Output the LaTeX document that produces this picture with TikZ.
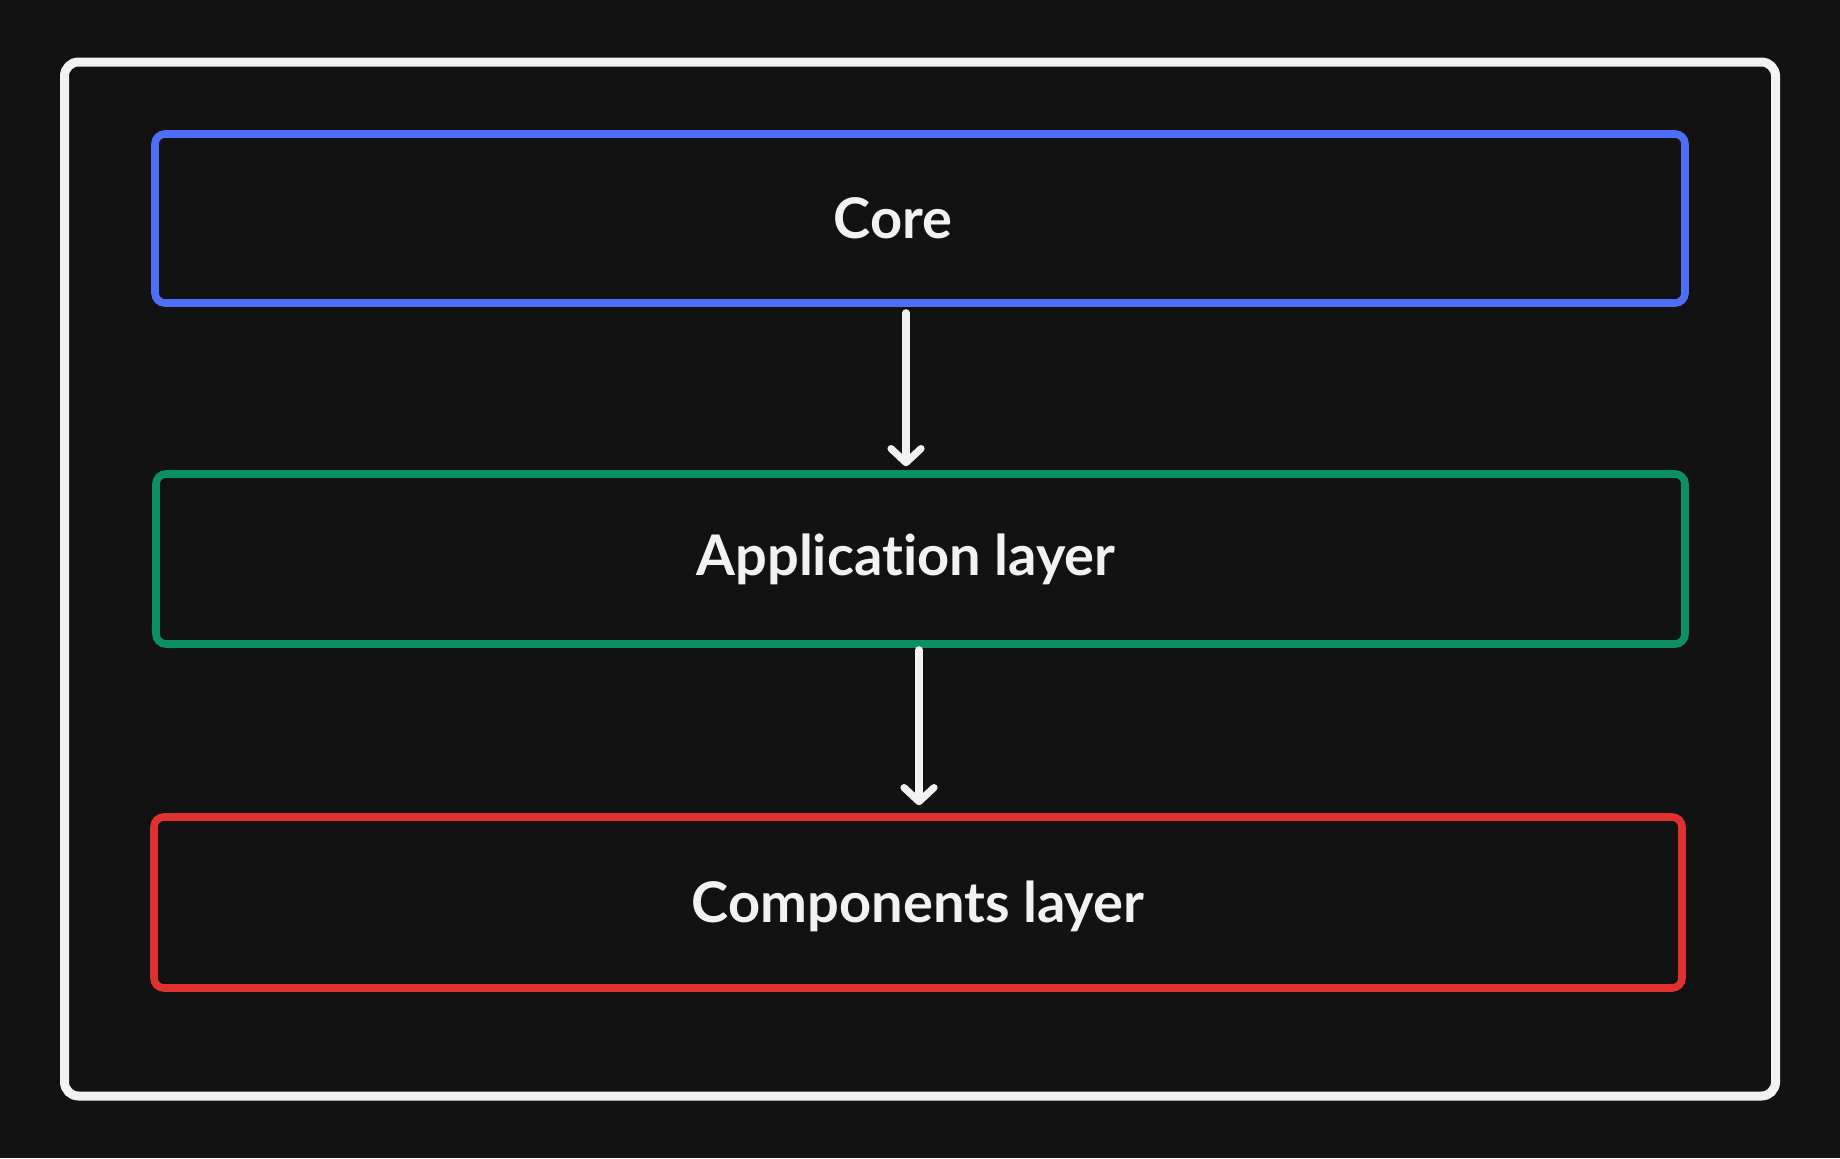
\documentclass[tikz,border=0pt]{standalone}
\usepackage{fontspec}
\setmainfont{Lato}[Ligatures={NoCommon}]
\usetikzlibrary{arrows.meta}
\definecolor{bg}{HTML}{121212}
\definecolor{wht}{HTML}{F2F2F2}
\definecolor{cblue}{HTML}{4F6EF7}
\definecolor{cgreen}{HTML}{0C8F63}
\definecolor{cred}{HTML}{E03131}
\begin{document}
\begin{tikzpicture}[x=0.5pt,y=-0.5pt,
  layerbox/.style={draw, line width=3.8pt, rounded corners=5pt, fill=none, inner sep=0pt},
  lbl/.style={text=wht, font=\bfseries\fontsize{28}{32}\selectfont, inner sep=0pt},
  arr/.style={draw=wht, line width=3.6pt, line cap=round, -{Straight Barb[length=7pt,width=15pt,line cap=round,line join=round]}}]
\fill[bg] (0,0) rectangle (1840,1158);
\useasboundingbox (0,0) rectangle (1840,1158);
% outer frame
\node[layerbox, draw=wht, line width=4.5pt, rounded corners=7pt, minimum width=1711*0.5pt, minimum height=1034*0.5pt] (frame) at (920,579) {};
% layers
\node[layerbox, draw=cblue, minimum width=1530*0.5pt, minimum height=169*0.5pt] (core) at (920,218.5) {};
\node[layerbox, draw=cgreen, minimum width=1529*0.5pt, minimum height=170*0.5pt] (app) at (920.5,559) {};
\node[layerbox, draw=cred, minimum width=1528*0.5pt, minimum height=171*0.5pt] (comp) at (918,902.5) {};
% labels
\node[lbl] (coreL) at (893,218) {Core};
\node[lbl] (appL) at (906,559) {Application layer};
\node[lbl] (compL) at (918,906) {Components layer};
% arrows
\draw[arr] ([yshift=-3pt]core.south -| 906,0) -- ([yshift=2pt]app.north -| 906,0);
\draw[arr] ([yshift=-1pt]app.south -| 919,0) -- ([yshift=4pt]comp.north -| 919,0);
\end{tikzpicture}
\end{document}
